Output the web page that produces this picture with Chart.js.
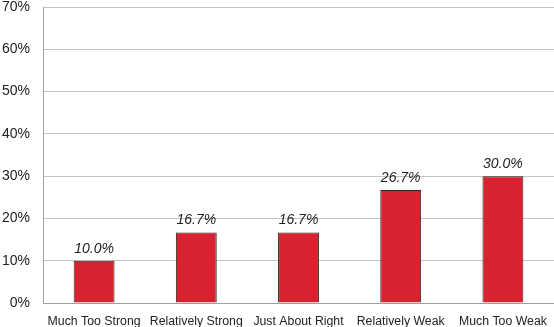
<!DOCTYPE html>
<html lang="en">
<head>
    <meta charset="UTF-8">
    <title>Strength Ratings</title>
    <style>
        body, html {
            margin: 0;
            padding: 0;
            background: #fff;
            overflow: hidden;
        }
        .chart-container {
            width: 554px;
            height: 327px;
        }
    </style>
    <script src="https://cdn.jsdelivr.net/npm/chart.js"></script>
</head>
<body>
    <div class="chart-container">
        <canvas id="ratingChart"></canvas>
    </div>

    <script>
        const categories = ['Much Too Strong', 'Relatively Strong', 'Just About Right', 'Relatively Weak', 'Much Too Weak'];
        const percentages = [10.0, 16.7, 16.7, 26.7, 30.0];
        const yTicks = [0, 10, 20, 30, 40, 50, 60, 70];

        // draws the italic value above each bar
        const valueLabels = {
            id: 'valueLabels',
            afterDatasetsDraw(chart) {
                const ctx = chart.ctx;
                const meta = chart.getDatasetMeta(0);
                ctx.save();
                ctx.font = 'italic 14px "Liberation Sans", Arial, sans-serif';
                ctx.fillStyle = '#222';
                ctx.textAlign = 'center';
                ctx.textBaseline = 'alphabetic';
                meta.data.forEach((bar, i) => {
                    ctx.fillText(percentages[i].toFixed(1) + '%', bar.x, bar.y - 8);
                });
                ctx.restore();
            }
        };

        const ctx = document.getElementById('ratingChart').getContext('2d');

        new Chart(ctx, {
            type: 'bar',
            data: {
                labels: categories,
                datasets: [{
                    data: percentages,
                    backgroundColor: '#d9222f',
                    borderColor: '#332222',
                    borderWidth: 1,
                    categoryPercentage: 1,
                    barPercentage: 0.4
                }]
            },
            options: {
                responsive: true,
                maintainAspectRatio: false,
                animation: false,
                layout: { padding: { top: 7, left: 0, right: 0, bottom: 0 } },
                plugins: {
                    legend: { display: false },
                    tooltip: { enabled: false }
                },
                scales: {
                    x: {
                        grid: { display: false },
                        border: { display: true, color: '#a0a0a0' },
                        ticks: {
                            color: '#222',
                            padding: 3,
                            maxRotation: 0,
                            autoSkip: false,
                            font: { size: 12.3, family: '"Liberation Sans", Arial, sans-serif' }
                        },
                        // fixed axis sizes so the plot area sits where the original does
                        afterFit: scale => { scale.height = 24; scale.paddingLeft = 0; scale.paddingRight = 0; }
                    },
                    y: {
                        min: 0,
                        max: 70,
                        afterBuildTicks: scale => { scale.ticks = yTicks.map(v => ({ value: v })); },
                        grid: { color: '#c4c4c4', drawTicks: false },
                        border: { display: true, color: '#a0a0a0' },
                        ticks: {
                            color: '#222',
                            padding: 13,
                            font: { size: 14, family: '"Liberation Sans", Arial, sans-serif' },
                            callback: v => v + '%'
                        },
                        afterFit: scale => { scale.width = 43; scale.paddingTop = 0; scale.paddingBottom = 0; }
                    }
                }
            },
            plugins: [valueLabels]
        });
    </script>
</body>
</html>
